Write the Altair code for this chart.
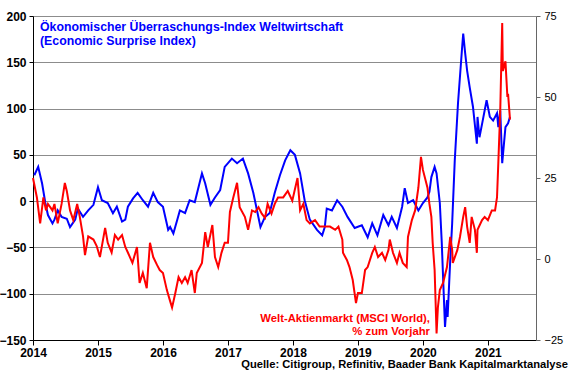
import altair as alt
import pandas as pd

# Economic Surprise Index (left axis), x = fractional year
esi_year = [2014.02, 2014.08, 2014.14, 2014.19, 2014.23, 2014.30, 2014.33, 2014.38, 2014.44, 2014.52,
            2014.57, 2014.65, 2014.69, 2014.77, 2014.85, 2014.93, 2015.00, 2015.06, 2015.15, 2015.23,
            2015.29, 2015.37, 2015.42, 2015.46, 2015.54, 2015.61, 2015.69, 2015.77, 2015.85, 2015.92,
            2016.00, 2016.08, 2016.11, 2016.16, 2016.22, 2016.26, 2016.34, 2016.41, 2016.49, 2016.60,
            2016.65, 2016.73, 2016.80, 2016.88, 2016.95, 2017.06, 2017.14, 2017.23, 2017.31, 2017.39,
            2017.50, 2017.57, 2017.64, 2017.72, 2017.80, 2017.88, 2017.96, 2018.03, 2018.11, 2018.18,
            2018.26, 2018.37, 2018.45, 2018.49, 2018.52, 2018.60, 2018.68, 2018.76, 2018.84, 2018.95,
            2019.06, 2019.15, 2019.22, 2019.30, 2019.39, 2019.47, 2019.52, 2019.60, 2019.68, 2019.72,
            2019.77, 2019.85, 2019.93, 2020.00, 2020.07, 2020.10, 2020.13, 2020.18, 2020.21, 2020.26,
            2020.29, 2020.31, 2020.34, 2020.37, 2020.38, 2020.42, 2020.45, 2020.49, 2020.54, 2020.60,
            2020.62, 2020.65, 2020.68, 2020.72, 2020.77, 2020.83, 2020.84, 2020.87, 2020.92, 2020.98,
            2021.03, 2021.08, 2021.14, 2021.16, 2021.19, 2021.22, 2021.27, 2021.31, 2021.34]
esi_value = [28, 37, 19, -2, -15, -24, -20, -10, -17, -19,
             -28, -20, -8, -17, -10, -4, 15, 1, -2, -13,
             -6, -22, -20, -6, 3, 9, 1, -6, 9, -1,
             -6, -31, -28, -35, -20, -10, -13, 1, -1, 30,
             19, -4, 4, 12, 37, 46, 41, 46, 30, 9,
             -28, -17, -13, 9, 28, 44, 55, 50, 30, 1,
             -20, -31, -37, -28, -8, -10, 1, -6, -17, -29,
             -26, -39, -24, -37, -15, -26, -17, -29, -6, 14,
             -2, 1, -10, -2, 4, 10, 26, 37, 30, -2,
             -45, -82, -136, -107, -125, -64, -24, 44, 106, 163,
             181, 160, 141, 123, 102, 62, 91, 69, 87, 109,
             91, 87, 95, 80, 98, 41, 80, 84, 91]

# MSCI World, % y/y (right axis)
msci_year = [2014.00, 2014.06, 2014.11, 2014.16, 2014.20, 2014.23, 2014.30, 2014.33, 2014.38, 2014.44,
             2014.49, 2014.52, 2014.57, 2014.62, 2014.68, 2014.72, 2014.77, 2014.80, 2014.85, 2014.93,
             2014.98, 2015.03, 2015.11, 2015.15, 2015.21, 2015.26, 2015.31, 2015.37, 2015.42, 2015.46,
             2015.53, 2015.60, 2015.64, 2015.69, 2015.75, 2015.80, 2015.85, 2015.91, 2015.95, 2016.00,
             2016.06, 2016.11, 2016.14, 2016.19, 2016.24, 2016.29, 2016.34, 2016.38, 2016.44, 2016.49,
             2016.52, 2016.60, 2016.65, 2016.69, 2016.76, 2016.80, 2016.85, 2016.90, 2016.95, 2017.00,
             2017.03, 2017.08, 2017.14, 2017.18, 2017.26, 2017.31, 2017.37, 2017.42, 2017.47, 2017.52,
             2017.57, 2017.61, 2017.67, 2017.72, 2017.77, 2017.85, 2017.92, 2017.99, 2018.07, 2018.11,
             2018.16, 2018.21, 2018.26, 2018.34, 2018.41, 2018.49, 2018.57, 2018.65, 2018.70, 2018.76,
             2018.77, 2018.83, 2018.87, 2018.92, 2018.97, 2019.00, 2019.06, 2019.11, 2019.15, 2019.22,
             2019.26, 2019.31, 2019.37, 2019.42, 2019.47, 2019.49, 2019.54, 2019.60, 2019.64, 2019.69,
             2019.75, 2019.77, 2019.83, 2019.88, 2019.93, 2019.97, 2020.00, 2020.07, 2020.10, 2020.13,
             2020.15, 2020.18, 2020.21, 2020.23, 2020.26, 2020.31, 2020.37, 2020.42, 2020.45, 2020.46,
             2020.53, 2020.57, 2020.62, 2020.65, 2020.68, 2020.72, 2020.75, 2020.80, 2020.83, 2020.84,
             2020.91, 2020.95, 2021.00, 2021.06, 2021.11, 2021.14, 2021.16, 2021.19, 2021.22, 2021.23,
             2021.27, 2021.30, 2021.31, 2021.34]
msci_value = [25, 19, 11, 19, 15, 17, 15, 17, 11, 17,
              23.5, 21, 15, 12, 17, 13, 7, 1.2, 7, 6,
              4, 0.6, 9.6, 5, 2, 7.4, 6, 7.4, 3.7, 2,
              -1.2, 3.7, -7.4, -4.3, -9, 5, 0.6, -1.9, -3.4, -4.3,
              -9.6, -13, -15, -10.5, -5.6, -7.4, -5.6, -7.4, -3.4, -10.5,
              -4.3, -1.2, 8.3, 3.7, 10.5, 0.6, -2.5, 1.9, 5, 5,
              14.5, 18.8, 23.5, 16, 13, 9, 15, 14.5, 16, 14,
              12.7, 17, 14, 17, 19, 19, 21, 18, 25, 15,
              17, 12, 11, 12, 10, 10, 10, 9, 10, 6,
              1.9, -0.3, -2.5, -6.5, -13.6, -10.5, -10.5, -3.4, -2.5, 1.9,
              3.7, 0.6, 1.9, -0.3, 2.8, 6, 1.9, -1.2, 1.9, -1.2,
              -2.5, 6.8, 12, 15, 22, 31.5, 27.5, 22, 17, 13,
              5, -3.4, -23, -15, -9.6, -7.4, -2.5, 6.8, 2.8, -1.2,
              2.8, 6.8, 13, 16, 10, 5, 13, 9, 1.9, 9,
              12, 13, 12, 15, 15, 19, 29.6, 46, 72.8, 58,
              61, 50, 51, 43]

year_ticks = [2014, 2015, 2016, 2017, 2018, 2019, 2020, 2021]
left_ticks = [-150, -100, -50, 0, 50, 100, 150, 200]
right_ticks = [-25, 0, 25, 50, 75]

FONT = "Liberation Sans"
BLUE = "#0000FF"
RED = "#FF0000"

esi = pd.DataFrame({"year": esi_year, "value": esi_value})
msci = pd.DataFrame({"year": msci_year, "value": msci_value})

xenc = alt.X("year:Q",
             scale=alt.Scale(domain=[2014, 2021.74], nice=False, zero=False),
             axis=alt.Axis(values=year_ticks, format="d", title=None, grid=False,
                           labelFont=FONT, labelFontWeight="bold", labelFontSize=12,
                           labelColor="#000000", domainColor="#000000", tickColor="#000000",
                           tickSize=5, labelPadding=2, labelFlush=False))

blue = alt.Chart(esi).mark_line(color=BLUE, strokeWidth=2).encode(
    x=xenc,
    y=alt.Y("value:Q",
            scale=alt.Scale(domain=[-150, 200], nice=False, zero=False),
            axis=alt.Axis(values=left_ticks, title=None, grid=True, gridColor="#8c8c8c",
                          gridWidth=1, labelFont=FONT, labelFontWeight="bold", labelFontSize=12,
                          labelColor="#000000", domainColor="#000000", tickColor="#000000",
                          tickSize=4, labelPadding=3, labelFlush=False))
)

red = alt.Chart(msci).mark_line(color=RED, strokeWidth=2).encode(
    x=alt.X("year:Q"),
    y=alt.Y("value:Q",
            scale=alt.Scale(domain=[-25, 75], nice=False, zero=False),
            axis=alt.Axis(values=right_ticks, title=None, grid=False, orient="right",
                          labelFont=FONT, labelFontSize=11, labelColor="#000000",
                          domainColor="#666666", tickColor="#666666", tickSize=4,
                          labelPadding=4, labelFlush=False))
)

one = pd.DataFrame({"a": [0]})

def label(txt, x, y, color, align="left", size=12):
    return alt.Chart(one).mark_text(text=txt, align=align, baseline="alphabetic",
                                    font=FONT, fontWeight="bold", fontSize=size,
                                    color=color).encode(x=alt.value(x), y=alt.value(y))

texts = [
    label("Ökonomischer Überraschungs-Index Weltwirtschaft", 7, 15, BLUE, size=12.3),
    label("(Economic Surprise Index)", 7, 29, BLUE, size=12.3),
    label("Welt-Aktienmarkt (MSCI World),", 397, 306, RED, align="right", size=11.3),
    label("% zum Vorjahr", 397, 319, RED, align="right", size=11.3),
    label("Quelle: Citigroup, Refinitiv, Baader Bank Kapitalmarktanalyse", 535, 352, "#000000",
          align="right", size=11.2),
]

chart = alt.layer(blue, red, *texts).resolve_scale(y="independent").properties(
    width=503, height=324,
    padding={"left": 33, "top": 16, "right": 44, "bottom": 35},
    autosize="none",
    background="#FFFFFF",
).configure_view(stroke=None)

chart.save("out.html", embed_options={"renderer": "svg", "actions": False})
